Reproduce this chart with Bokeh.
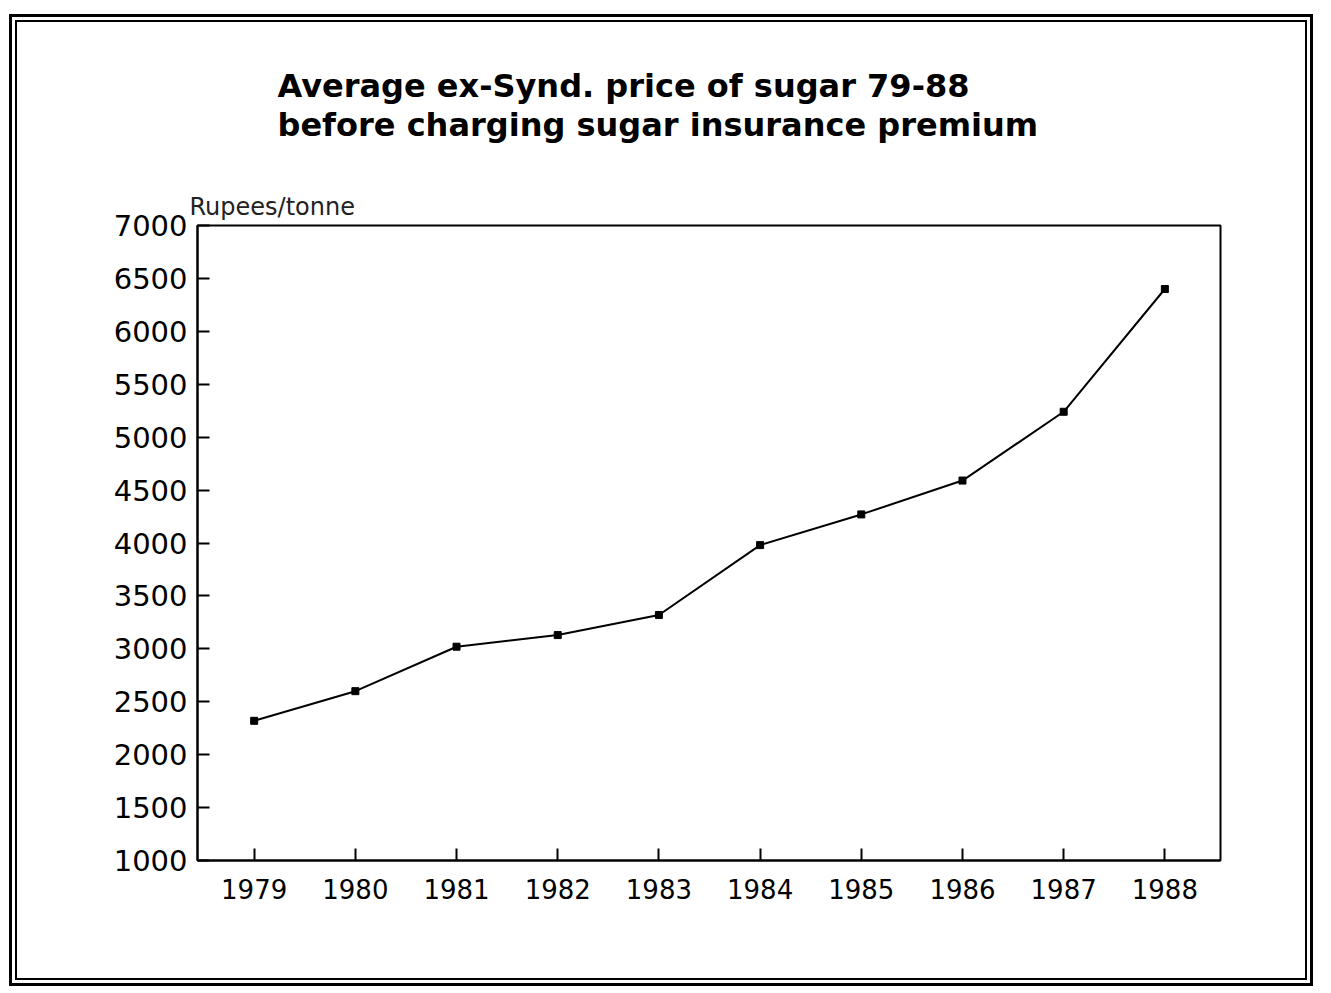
from bokeh.plotting import figure
from bokeh.models import Range1d, FixedTicker, Title
from bokeh.embed import file_html
from bokeh.resources import INLINE

years = [1979, 1980, 1981, 1982, 1983, 1984, 1985, 1986, 1987, 1988]
prices = [2320, 2600, 3020, 3130, 3320, 3980, 4270, 4590, 5240, 6400]
y_ticks = [1000, 1500, 2000, 2500, 3000, 3500, 4000, 4500, 5000, 5500, 6000, 6500, 7000]
title1 = "Average ex-Synd. price of sugar 79-88"
title2 = "before charging sugar insurance premium"
y_unit = "Rupees/tonne"

W, H = 1322, 990
p = figure(width=W, height=H, output_backend="svg", toolbar_location=None,
           x_range=Range1d(1978.44, 1988.55), y_range=Range1d(1000, 7000),
           min_border_left=197, min_border_right=W - 1220, min_border_top=225, min_border_bottom=H - 860)
p.title = None
p.grid.grid_line_color = None
p.background_fill_color = "white"
p.border_fill_alpha = 0
p.outline_line_color = "black"
p.outline_line_width = 2
p.outline_line_alpha = 1
# double page border drawn behind the (transparent) canvas margins
p.styles = {
    "background-color": "white",
    "box-shadow": ("inset 0 5px 0 9px white, inset 0 5px 0 12px black, "
                   "inset 0 5px 0 15px white, inset 0 5px 0 17px black"),
}

font = "DejaVu Sans"
for ax in (p.xaxis[0], p.yaxis[0]):
    ax.axis_line_width = 2
    ax.axis_line_color = "black"
    ax.major_tick_line_width = 2
    ax.major_tick_in = 12
    ax.major_tick_out = 0
    ax.minor_tick_line_color = None
    ax.major_label_text_font = font
    ax.major_label_text_color = "black"

p.xaxis[0].ticker = FixedTicker(ticks=years)
p.xaxis[0].major_label_text_font_size = "26px"
p.xaxis[0].major_label_standoff = 18
p.yaxis[0].ticker = FixedTicker(ticks=y_ticks)
p.yaxis[0].major_label_text_font_size = "29px"
p.yaxis[0].major_label_standoff = 10

p.line(years, prices, line_color="black", line_width=2)
p.scatter(years, prices, marker="square", size=7, color="black")

# stacked titles above the frame (first added = closest to frame)
p.add_layout(Title(text=y_unit, align="left", offset=-8, standoff=10,
                   text_font=font, text_font_size="24px", text_font_style="normal",
                   text_color="#222222"), "above")
p.add_layout(Title(text=title1 + "\n" + title2, align="left", offset=80, standoff=82,
                   text_font=font, text_font_size="32px", text_font_style="bold",
                   text_line_height=1.05, text_color="black"), "above")

open("out.html", "w").write(file_html(p, INLINE))
